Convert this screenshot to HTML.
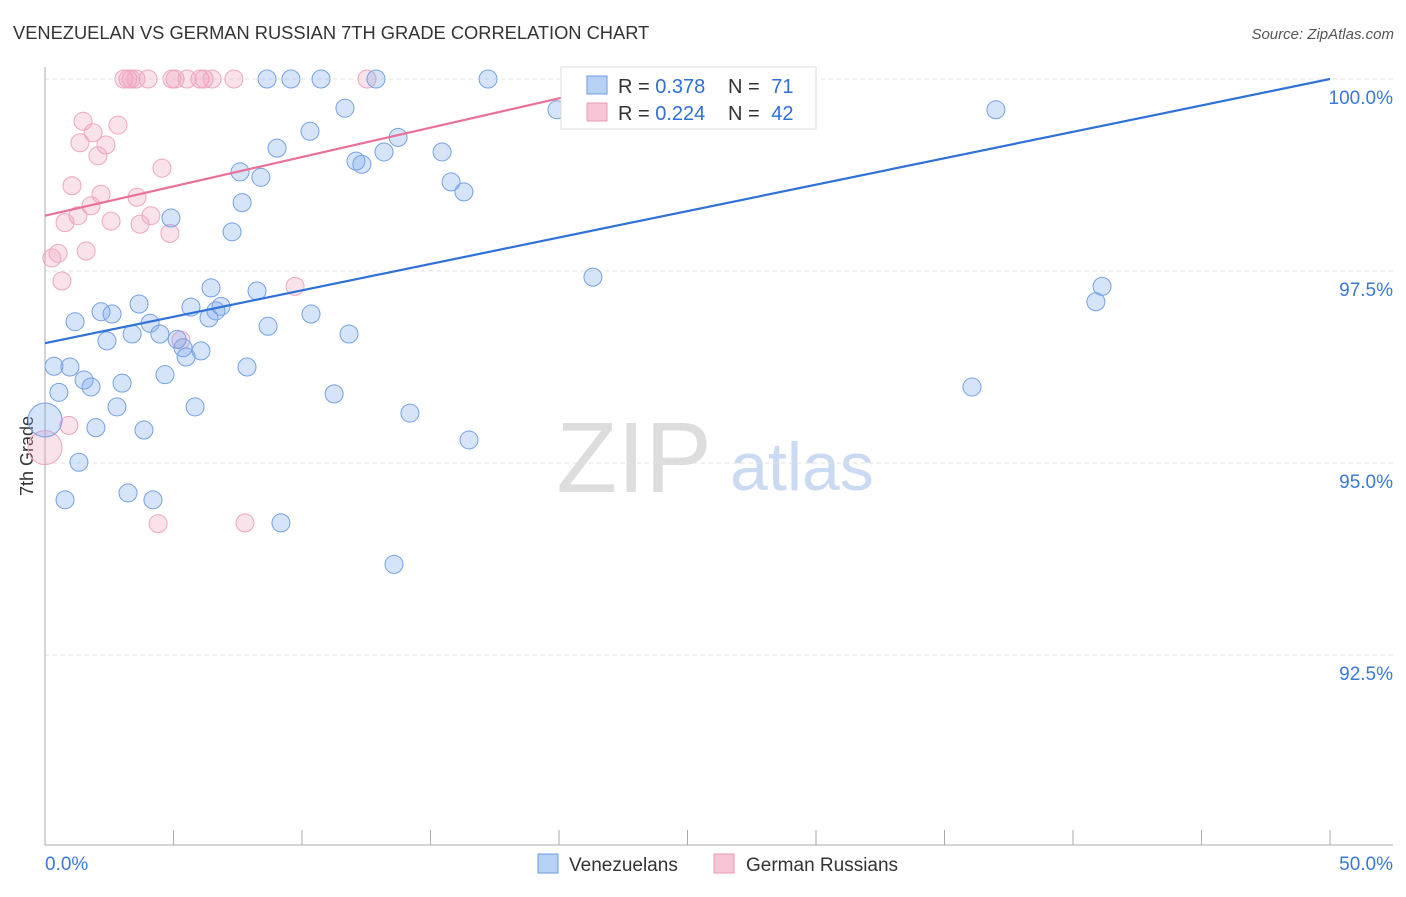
<!DOCTYPE html>
<html><head><meta charset="utf-8"><style>
body{margin:0;background:#fff;font-family:"Liberation Sans",sans-serif}
svg text{font-family:"Liberation Sans",sans-serif}
</style></head><body>
<svg id="c" width="1406" height="892">
<text x="13" y="39" font-size="18.3" fill="#333">VENEZUELAN VS GERMAN RUSSIAN 7TH GRADE CORRELATION CHART</text>
<text x="1394" y="39" font-size="15" fill="#555" font-style="italic" text-anchor="end">Source: ZipAtlas.com</text>
<text x="33" y="456" font-size="18" fill="#333" text-anchor="middle" transform="rotate(-90 33 456)">7th Grade</text>
<text x="634" y="492" font-size="100" fill="#ddd" text-anchor="middle" font-family="Liberation Serif">ZIP</text>
<text x="802" y="490" font-size="68" fill="#c9daf2" text-anchor="middle">atlas</text>
<g id="grid"></g><g id="pts"></g><g id="lines"></g>
<g>
<rect x="561" y="67" width="255" height="62" fill="#fff" stroke="#ddd"/>
<rect x="587" y="76" width="20" height="18" fill="#b7d1f5" stroke="#6b9be0"/>
<rect x="587" y="103" width="20" height="18" fill="#f7c6d6" stroke="#e99ab5"/>
<text x="618" y="93" font-size="20" fill="#333">R = <tspan fill="#2f6fd6">0.378</tspan></text>
<text x="728" y="93" font-size="20" fill="#333">N = <tspan fill="#2f6fd6" dx="6">71</tspan></text>
<text x="618" y="120" font-size="20" fill="#333">R = <tspan fill="#2f6fd6">0.224</tspan></text>
<text x="728" y="120" font-size="20" fill="#333">N = <tspan fill="#2f6fd6" dx="6">42</tspan></text>
</g>
<g>
<rect x="538" y="854" width="20" height="19" fill="#b7d1f5" stroke="#6b9be0"/>
<text x="569" y="871" font-size="19" fill="#333">Venezuelans</text>
<rect x="714" y="854" width="20" height="19" fill="#f7c6d6" stroke="#e99ab5"/>
<text x="746" y="871" font-size="19" fill="#333">German Russians</text>
</g>
</svg>
<script>
const yTicks=[100,97.5,95,92.5];
const yTickLabels=["100.0%","97.5%","95.0%","92.5%"];
const xTickLabels=["0.0%","50.0%"];
const blueX=[8.64,9.57,10.74,12.88,17.24,19.92,37.0,11.67,10.31,13.74,9.03,15.45,13.19,12.10,12.33,7.59,8.40,15.80,16.30,7.67,4.90,7.28,21.32,41.13,40.89,6.46,8.25,3.66,5.68,6.85,6.65,2.18,2.61,6.38,10.35,1.17,4.09,8.68,4.47,3.39,11.83,2.41,5.14,5.37,5.49,6.07,0.35,0.97,7.86,4.67,1.52,1.79,3.00,36.07,11.25,0.54,5.84,2.80,14.20,1.98,3.85,16.50,1.32,0,3.23,4.20,0.78,9.18,13.58];
const blueY=[100,100,100,100,100,99.60,99.60,99.62,99.32,99.24,99.10,99.05,99.05,98.93,98.89,98.79,98.72,98.66,98.53,98.39,98.19,98.01,97.42,97.30,97.10,97.28,97.24,97.07,97.03,97.04,96.98,96.97,96.94,96.89,96.94,96.84,96.82,96.78,96.68,96.68,96.68,96.59,96.61,96.50,96.38,96.46,96.26,96.25,96.25,96.15,96.08,95.99,96.04,95.99,95.90,95.92,95.73,95.73,95.65,95.46,95.43,95.30,95.01,95.56,94.61,94.52,94.52,94.22,93.68];
const pinkX=[3.07,3.23,3.35,3.54,4.01,4.94,5.06,5.53,6.03,6.19,6.50,7.35,12.53,27.82,1.48,2.84,1.87,1.36,2.37,2.06,4.55,1.05,2.18,3.58,1.79,1.28,0.78,2.57,3.70,4.12,4.86,0.51,0.27,1.60,0.66,9.73,5.29,0.93,0,4.40,7.78];
const pinkY=[100,100,100,100,100,100,100,100,100,100,100,100,100,100,99.45,99.40,99.30,99.17,99.14,99.00,98.84,98.61,98.50,98.46,98.35,98.22,98.13,98.15,98.11,98.22,97.99,97.73,97.67,97.76,97.37,97.30,96.60,95.49,95.20,94.21,94.22];
const blueLine=[[0,96.56],[50,100]];
const pinkLine=[[0,98.22],[23.3,100]];
const NS="http://www.w3.org/2000/svg";
const sx=v=>45+v*25.7, sy=v=>79+(100-v)*76.8;
function mk(p,t,a){const e=document.createElementNS(NS,t);for(const k in a)e.setAttribute(k,a[k]);p.appendChild(e);return e;}
const grid=document.getElementById('grid');
yTicks.forEach((t,i)=>{
 const l=mk(grid,'line',{x1:45,x2:1393,y1:sy(t),y2:sy(t),stroke:'#e2e2e2','stroke-dasharray':'4,4'});
 
 
 const tx=mk(grid,'text',{x:1393,y:sy(t)+25,'font-size':19,fill:'#3b78d8','text-anchor':'end'});tx.textContent=yTickLabels[i];
 
 
});
mk(grid,'line',{x1:45,x2:45,y1:67,y2:845,stroke:'#aaa'});
mk(grid,'line',{x1:45,x2:1393,y1:845,y2:845,stroke:'#aaa'});
for(let i=0;i<=10;i++){mk(grid,'line',{x1:sx(i*5),x2:sx(i*5),y1:830,y2:845,stroke:'#aaa'});}
[0,50].forEach((v,i)=>{const t=mk(grid,'text',{x:i?1393:45,y:870,'font-size':19,fill:'#3b78d8','text-anchor':i?'end':'start'});t.textContent=xTickLabels[i];
 
 });
const pts=document.getElementById('pts');
function dots(X,Y,fill,stroke,name){X.forEach((x,i)=>{
 const big=x===0;
 const c=mk(pts,'circle',{cx:sx(x),cy:sy(Y[i]),r:big?17:9,fill:fill,stroke:stroke,'stroke-width':1});
 
 
});}
dots(pinkX,pinkY,'rgba(240,160,188,0.3)','#efa5bf','point-german-russian');
dots(blueX,blueY,'rgba(120,165,235,0.3)','#73a2e4','point-venezuelan');
const lines=document.getElementById('lines');
const bl=mk(lines,'line',{x1:sx(blueLine[0][0]),y1:sy(blueLine[0][1]),x2:sx(blueLine[1][0]),y2:sy(blueLine[1][1]),stroke:'#2f72d6','stroke-width':2.2});


const pl=mk(lines,'line',{x1:sx(pinkLine[0][0]),y1:sy(pinkLine[0][1]),x2:sx(pinkLine[1][0]),y2:sy(pinkLine[1][1]),stroke:'#e8709a','stroke-width':2.2});


</script>
</body></html>
